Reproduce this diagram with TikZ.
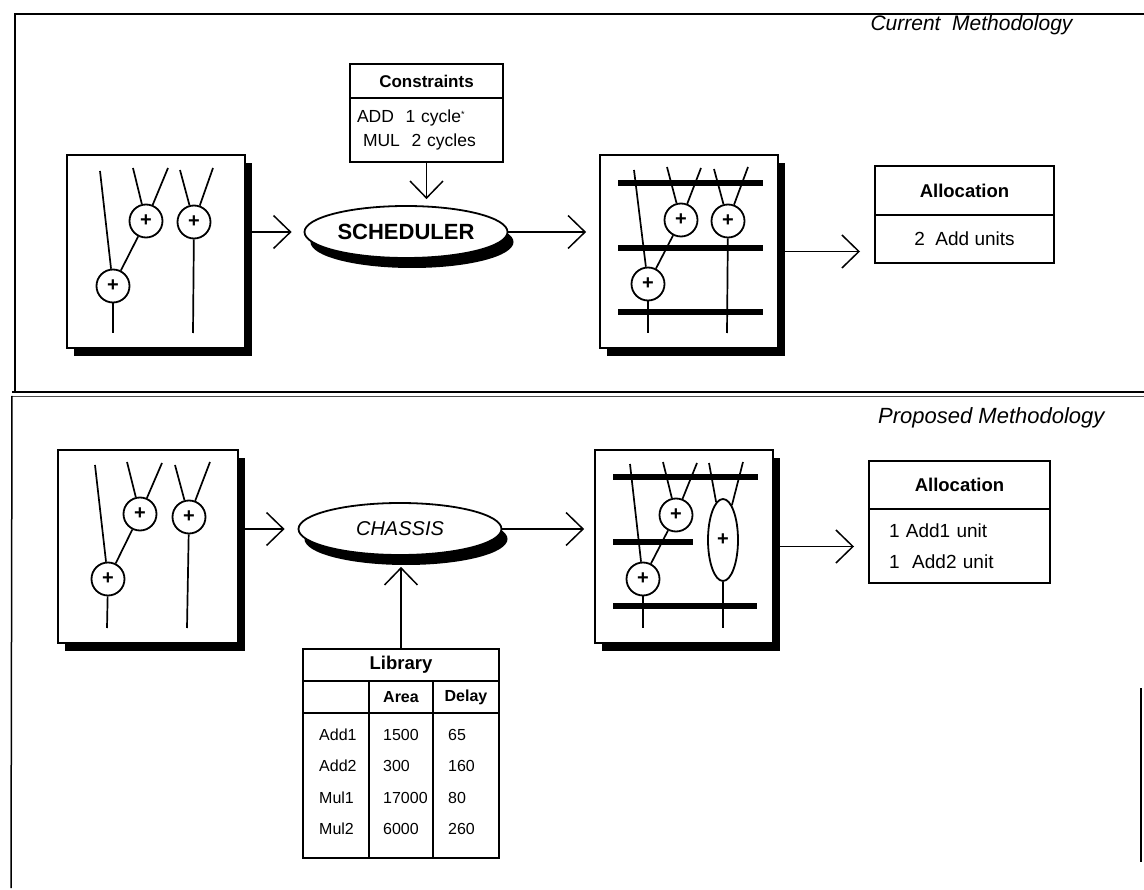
\documentclass[tikz,border=0pt]{standalone}
\usepackage{fontspec}
\setmainfont{Liberation Sans}
\usetikzlibrary{positioning,shapes.geometric,shadows,arrows.meta}

\newcommand{\setfs}[2]{\fontsize{#1}{#2}\selectfont}

\tikzset{
  wire/.style={line width=1.7pt},
  bus/.style={line width=5.5pt},
  conn/.style={line width=1.5pt,-{Straight Barb[length=17pt,width=33pt,line width=1.5pt]}},
  gbox/.style={draw,line width=1.8pt,fill=white,minimum height=193pt,
    drop shadow={shadow xshift=7pt,shadow yshift=-8pt,fill=black,opacity=1}},
  addn/.style={circle,draw,line width=1.8pt,fill=white,minimum size=33pt,inner sep=0pt,
    font=\setfs{20}{20}\bfseries},
  proc/.style={ellipse,draw,line width=1.8pt,fill=white,minimum width=203pt,minimum height=52pt,
    drop shadow={shadow xshift=6pt,shadow yshift=-10pt,fill=black,opacity=1}},
  cell/.style={draw,line width=1.7pt,outer sep=0pt,inner sep=0pt},
  hdcell/.style={cell,font=\setfs{18.5}{22}\bfseries},
  txt/.style={font=\setfs{19}{31}},
  libtxt/.style={anchor=north west,inner sep=0pt,align=left,font=\setfs{16}{31.5}}
}

\begin{document}
\begin{tikzpicture}[x=1pt,y=-1pt]
  \useasboundingbox (0,0) rectangle (1144,890);
  %\draw[help lines,step=50] (0,0) grid (1144,890);

  % frame
  \draw[line width=2.5pt] (1144,14) -- (15,14) -- (15,393);
  \draw[line width=1.8pt] (12,392) -- (1144,392);
  \draw[line width=1.4pt,black!70] (12,396.5) -- (1144,396.5);
  \draw[line width=1.5pt] (12,396) -- (11,888);
  \draw[line width=1.2pt] (1141,688) -- (1141,862);

  \node[anchor=east,font=\setfs{21}{25}\itshape] (cur) at (1076,25) {Current\ \ Methodology};
  \node[anchor=east,font=\setfs{22}{26}\itshape] (prop) at (1108,418) {Proposed Methodology};

  %% current methodology
  \node[gbox,minimum width=178pt] (g1) at (156,251.5) {};
  \node[addn] (a1) at (146,221) {+};
  \node[addn] (a2) at (194,222) {+};
  \node[addn] (a3) at (113,286) {+};
  \coordinate (a0i) at (100,171);
  \coordinate (a1i) at (133,168); \coordinate (a1j) at (168,168);
  \coordinate (a2i) at (180,170); \coordinate (a2j) at (213,168);
  \coordinate (a3o) at (113,333); \coordinate (a2o) at (193,333);
  \draw[wire] (a0i) -- (a3);
  \draw[wire] (a1i) -- (a1); \draw[wire] (a1j) -- (a1);
  \draw[wire] (a2i) -- (a2); \draw[wire] (a2j) -- (a2);
  \draw[wire] (a1) -- (a3);
  \draw[wire] (a3) -- (a3o); \draw[wire] (a2) -- (a2o);

  \node[proc,font=\setfs{22}{26}\bfseries] (sch) at (406,232) {SCHEDULER};

  \node[hdcell,minimum width=153pt,minimum height=34pt,font=\setfs{17}{21}\bfseries] (consh) at (426.5,81) {Constraints};
  \node[cell,below=0pt of consh,minimum height=64pt,text width=139pt,inner xsep=7pt,align=left,
    font=\setfs{17.5}{24}] (consb) {ADD\ \ 1 cycle\raisebox{5pt}{\setfs{9}{9}*}\\\hspace*{6pt}MUL\ \ 2 cycles};

  \node[gbox,minimum width=178pt] (g2) at (689,251.5) {};
  \draw[bus] (618,183) -- (763,183);
  \draw[bus] (618,248) -- (763,248);
  \draw[bus] (618,312) -- (763,312);
  \node[addn] (b1) at (681,220) {+};
  \node[addn] (b2) at (728,221) {+};
  \node[addn] (b3) at (648,284) {+};
  \coordinate (b0i) at (634,170);
  \coordinate (b1i) at (667,167); \coordinate (b1j) at (701,168);
  \coordinate (b2i) at (714,169); \coordinate (b2j) at (748,167);
  \coordinate (b3o) at (648,333); \coordinate (b2o) at (727,333);
  \draw[wire] (b0i) -- (b3);
  \draw[wire] (b1i) -- (b1); \draw[wire] (b1j) -- (b1);
  \draw[wire] (b2i) -- (b2); \draw[wire] (b2j) -- (b2);
  \draw[wire] (b1) -- (b3);
  \draw[wire] (b3) -- (b3o); \draw[wire] (b2) -- (b2o);

  \node[hdcell,minimum width=179pt,minimum height=49pt] (al1h) at (964.5,190.5) {Allocation};
  \node[cell,below=0pt of al1h,minimum width=179pt,minimum height=48pt,txt] (al1b) {2\ \ Add units};

  \draw[conn,shorten >=12pt] (g1.east |- sch.west) -- (sch.west);
  \draw[conn,shorten >=13pt] (sch.east) -- (g2.west |- sch.east);
  \draw[conn,shorten >=15pt] (g2.east) -- (al1b.west |- g2.east);
  \draw[conn,shorten >=6pt] (consb.south) -- (consb.south |- sch.north);

  %% proposed methodology
  \node[gbox,minimum width=180pt] (g3) at (148,546.5) {};
  \node[addn] (c1) at (140,514) {+};
  \node[addn] (c2) at (189,517) {+};
  \node[addn] (c3) at (108,579) {+};
  \coordinate (c0i) at (95,465);
  \coordinate (c1i) at (127,462); \coordinate (c1j) at (162,463);
  \coordinate (c2i) at (175,465); \coordinate (c2j) at (210,462);
  \coordinate (c3o) at (107,628); \coordinate (c2o) at (187,628);
  \draw[wire] (c0i) -- (c3);
  \draw[wire] (c1i) -- (c1); \draw[wire] (c1j) -- (c1);
  \draw[wire] (c2i) -- (c2); \draw[wire] (c2j) -- (c2);
  \draw[wire] (c1) -- (c3);
  \draw[wire] (c3) -- (c3o); \draw[wire] (c2) -- (c2o);

  \node[proc,font=\setfs{20}{24}\itshape] (chs) at (400,529) {CHASSIS};

  \node[gbox,minimum width=178pt] (g4) at (684,546.5) {};
  \draw[bus] (613,477) -- (758,477);
  \draw[bus] (613,542) -- (693,542);
  \draw[bus] (613,606) -- (757,606);
  \node[addn] (d1) at (676,515) {+};
  \node[addn,ellipse,minimum width=30pt,minimum height=82pt] (d2) at (723,540) {+};
  \node[addn] (d3) at (643,579) {+};
  \coordinate (d0i) at (630,464);
  \coordinate (d1i) at (663,462); \coordinate (d1j) at (697,463);
  \coordinate (d2i) at (709,463); \coordinate (d2j) at (743,462);
  \coordinate (d3o) at (643,628); \coordinate (d2o) at (723,628);
  \draw[wire] (d0i) -- (d3);
  \draw[wire] (d1i) -- (d1); \draw[wire] (d1j) -- (d1);
  \draw[wire] (d2i) -- (d2); \draw[wire] (d2j) -- (d2);
  \draw[wire] (d1) -- (d3);
  \draw[wire] (d3) -- (d3o); \draw[wire] (d2) -- (d2o);

  \node[hdcell,minimum width=181pt,minimum height=48pt] (al2h) at (959.5,485) {Allocation};
  \node[cell,below=0pt of al2h,minimum height=74pt,text width=141pt,inner xsep=20pt,align=left,txt] (al2b) {1 Add1 unit\\1\ \ Add2 unit};

  % library table
  \node[hdcell,minimum width=196pt,minimum height=32pt] (libh) at (401,665) {Library};
  \node[cell,minimum width=66pt,minimum height=32pt] (lh1) at (336,697) {};
  \node[cell,minimum width=64pt,minimum height=32pt,font=\setfs{16}{18}\bfseries] (lh2) at (401,697) {Area};
  \node[cell,minimum width=66pt,minimum height=32pt,font=\setfs{16}{18}\bfseries] (lh3) at (466,697) {Delay};
  \node[cell,minimum width=66pt,minimum height=145pt] (lb1) at (336,785.5) {};
  \node[cell,minimum width=64pt,minimum height=145pt] (lb2) at (401,785.5) {};
  \node[cell,minimum width=66pt,minimum height=145pt] (lb3) at (466,785.5) {};
  \node[libtxt] (lt1) at (319,718) {\strut Add1\\Add2\\Mul1\\Mul2};
  \node[libtxt] (lt2) at (383,718) {\strut 1500\\300\\17000\\6000};
  \node[libtxt] (lt3) at (448,718) {\strut 65\\160\\80\\260};

  \draw[conn,shorten >=13pt] (g3.east |- chs.west) -- (chs.west);
  \draw[conn,shorten >=10pt] (chs.east) -- (g4.west |- chs.east);
  \draw[conn,shorten >=15pt] (g4.east) -- (al2b.west |- g4.east);
  \draw[conn,shorten >=11pt] (libh.north) -- (libh.north |- chs.south);
\end{tikzpicture}
\end{document}
